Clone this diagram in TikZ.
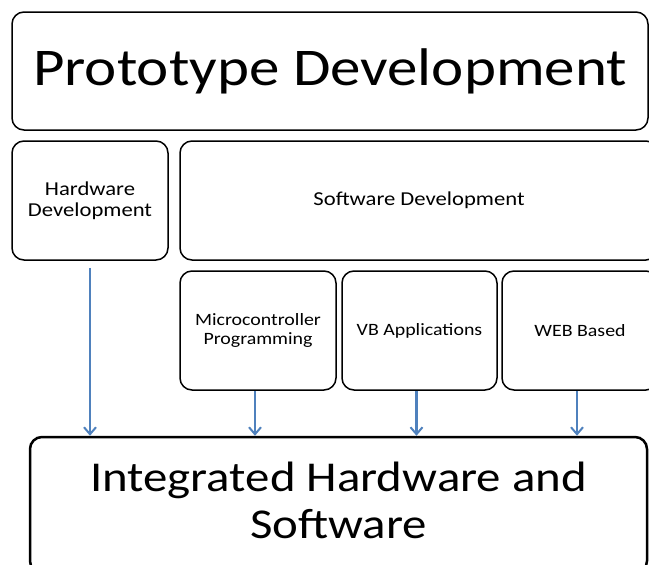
\documentclass[tikz,border=0pt]{standalone}
\usepackage{fontspec}
\setmainfont[FakeStretch=1.15]{Carlito}
\usetikzlibrary{arrows.meta}
\definecolor{arrowblue}{HTML}{4F81BD}

\begin{document}
\begin{tikzpicture}[x=1pt,y=-1pt,
		box/.style={draw,line width=1.5pt,rounded corners=12pt,align=center,inner sep=0pt},
		small/.style={box,minimum width=155pt,minimum height=119pt,font=\fontsize{19.7}{21.5}\selectfont},
		leaf/.style={small,font=\fontsize{17.3}{19.5}\selectfont},
		arr/.style={draw=arrowblue,line width=2.6pt,-{Straight Barb[length=7pt,width=12pt,line width=2pt]}}]
		\useasboundingbox (0,0) rectangle (649,565);
		\node[box,minimum width=636pt,minimum height=118pt,font=\fontsize{53}{60}\selectfont] (proto) at (330,71) {Prototype Development};
		\node[small,minimum width=156pt] (hw) at (90,200.5) {Hardware\\Development};
		\node[small,minimum width=478pt] (sw) at (419,200.5) {Software Development};
		\node[leaf,minimum width=156pt] (micro) at (258,330.5) {Microcontroller\\Programming};
		\node[leaf] (vb) at (419.5,330.5) {VB Applications};
		\node[leaf,minimum width=156pt] (web) at (580,330.5) {WEB Based};
		\node[box,line width=2.5pt,minimum width=617pt,minimum height=136pt] (integ) at (338.5,505) {};
		\node[align=center,font=\fontsize{42.5}{47}\selectfont] (integtext) at (338.5,500) {Integrated Hardware and\\Software};
		\draw[arr,shorten <=7pt] (hw.south) -- (hw.south |- integ.north);
		\foreach \b in {micro,vb,web}
			\draw[arr] ([xshift=-3pt]\b.south) -- ([xshift=-3pt]\b.south |- integ.north);
	\end{tikzpicture}
\end{document}
